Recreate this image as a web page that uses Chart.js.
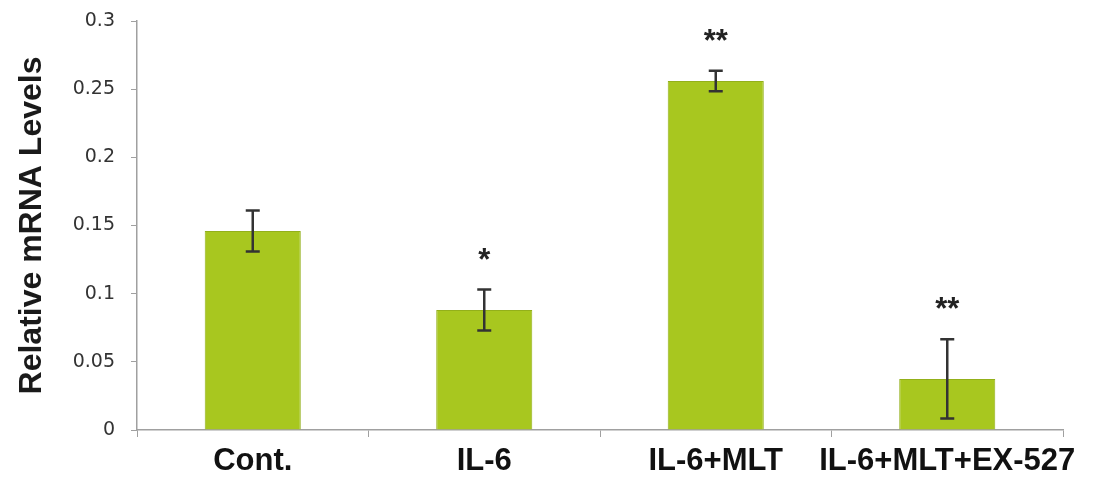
<!DOCTYPE html>
<html>
<head>
<meta charset="utf-8">
<script src="https://cdn.jsdelivr.net/npm/chart.js@4/dist/chart.umd.min.js"></script>
<style>
	html, body { margin: 0; padding: 0; background: #fff; }
	#wrap { width: 1108px; height: 481px; }
</style>
</head>
<body>
<div id="wrap"><canvas id="mrnaChart"></canvas></div>
<script>
var categories = ['Cont.', 'IL-6', 'IL-6+MLT', 'IL-6+MLT+EX-527'];
var means = [0.146, 0.088, 0.256, 0.0375];
var errors = [0.015, 0.015, 0.0075, 0.029];
var marks = ['', '*', '**', '**'];
var yMax = 0.3;
var yStep = 0.05;

// error bars + significance stars, drawn from the y scale
var errorBars = {
	id: 'errorBars',
	afterDatasetsDraw: function (chart) {
		var ctx = chart.ctx;
		var y = chart.scales.y;
		var meta = chart.getDatasetMeta(0);
		ctx.save();
		meta.data.forEach(function (bar, i) {
			var top = y.getPixelForValue(means[i] + errors[i]);
			var bot = y.getPixelForValue(means[i] - errors[i]);
			ctx.strokeStyle = '#333333';
			ctx.lineWidth = 2.5;
			ctx.beginPath();
			ctx.moveTo(bar.x, top);
			ctx.lineTo(bar.x, bot);
			ctx.moveTo(bar.x - 7, top);
			ctx.lineTo(bar.x + 7, top);
			ctx.moveTo(bar.x - 7, bot);
			ctx.lineTo(bar.x + 7, bot);
			ctx.stroke();
			if (marks[i]) {
				ctx.fillStyle = '#222222';
				ctx.font = 'bold 31px "Liberation Sans", Arial, sans-serif';
				ctx.textAlign = 'center';
				ctx.textBaseline = 'alphabetic';
				ctx.fillText(marks[i], bar.x, top - 20);
			}
		});
		ctx.restore();
	},
};

var mrnaChart = new Chart(document.getElementById('mrnaChart'), {
	type: 'bar',
	data: {
		labels: categories,
		datasets: [
			{
				label: 'Relative mRNA Levels',
				data: means,
				backgroundColor: '#A8C71F',
				borderColor: '#93B01A',
				borderWidth: 1,
				categoryPercentage: 1,
				barPercentage: 0.415,
			},
		],
	},
	options: {
		responsive: true,
		maintainAspectRatio: false,
		animation: false,
		layout: {
			padding: { left: 0, right: 45, top: 21, bottom: 0 },
		},
		plugins: {
			legend: { display: false },
			tooltip: { enabled: false },
		},
		scales: {
			x: {
				grid: {
					display: true,
					drawOnChartArea: false,
					tickLength: 7,
					color: '#A0A0A0',
				},
				border: { color: '#A0A0A0', width: 1.5 },
				ticks: {
					color: '#111111',
					padding: 6,
					maxRotation: 0,
					autoSkip: false,
					font: { family: '"Liberation Sans", Arial, sans-serif', weight: 'bold', size: 31 },
				},
				afterFit: function (scale) {
					scale.height = 51;
				},
			},
			y: {
				min: 0,
				max: yMax,
				ticks: {
					stepSize: yStep,
					color: '#333333',
					padding: 16,
					font: { family: '"DejaVu Sans", sans-serif', size: 19 },
					callback: function (v) {
						return String(Math.round(v * 100) / 100);
					},
				},
				grid: {
					display: true,
					drawOnChartArea: false,
					tickLength: 6,
					color: '#A0A0A0',
				},
				border: { color: '#A0A0A0', width: 1.5 },
				title: {
					display: true,
					text: 'Relative mRNA Levels',
					color: '#1A1A1A',
					padding: { top: 13, bottom: 0 },
					font: { family: '"Liberation Sans", Arial, sans-serif', weight: 'bold', size: 32 },
				},
				afterFit: function (scale) {
					scale.width = 137;
					scale.paddingTop = 0;
					scale.paddingBottom = 0;
				},
			},
		},
	},
	plugins: [errorBars],
});
</script>
</body>
</html>
